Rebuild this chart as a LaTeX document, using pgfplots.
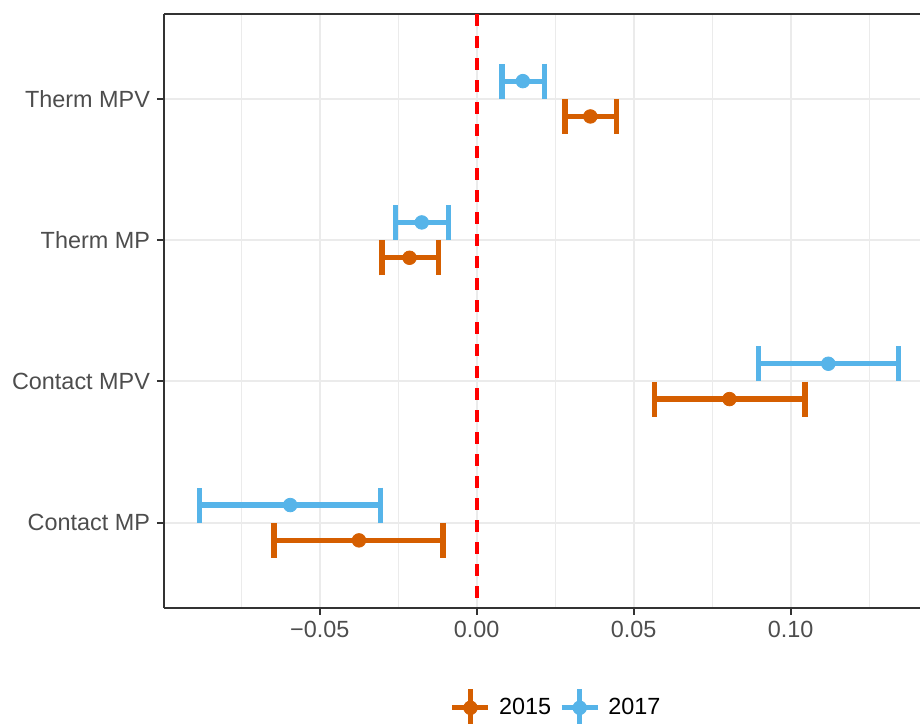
\documentclass[border=0pt]{standalone}
\usepackage{pgfplots}
\pgfplotsset{compat=1.18}
\usepackage{pgfplotstable}
\usepackage{fontspec}
\setmainfont{Liberation Sans}

\definecolor{c2015}{HTML}{D55E00}
\definecolor{c2017}{HTML}{56B4E9}
\definecolor{gridgray}{HTML}{EBEBEB}
\definecolor{framegray}{HTML}{333333}
\definecolor{labelgray}{HTML}{4D4D4D}

% estimate with confidence interval; y = category index -/+ dodge
\pgfplotstableread{
y      x        lo       hi
0.875  -0.0375  -0.0646  -0.0107
1.875   0.0805   0.0566   0.1045
2.875  -0.0214  -0.0302  -0.0122
3.875   0.0362   0.0282   0.0445
}\estA
\pgfplotstableread{
y      x        lo       hi
1.125  -0.0594  -0.0883  -0.0306
2.125   0.1120   0.0897   0.1343
3.125  -0.0175  -0.0259  -0.0090
4.125   0.0147   0.0081   0.0216
}\estB

\begin{document}
\begin{tikzpicture}
\begin{axis}[
  name=ax,
  scale only axis,
  width=378pt, height=296.75pt,
  xmin=-0.0996, xmax=0.1412,
  ymin=0.4, ymax=4.6,
  axis x line*=box, axis y line*=left,
  axis line style={-, framegray, line width=1pt},
  xtick={-0.05,0,0.05,0.1},
  xticklabels={−0.05,0.00,0.05,0.10},
  minor xtick={-0.075,-0.025,0.025,0.075,0.125},
  ytick={1,2,3,4},
  yticklabels={Contact MP,Contact MPV,Therm MP,Therm MPV},
  xtick pos=bottom, ytick pos=left,
  tick align=outside,
  major tick length=3.5pt, minor tick length=0pt,
  tick style={framegray, line width=1pt},
  xmajorgrids, xminorgrids, ymajorgrids,
  major grid style={gridgray, line width=1pt},
  minor grid style={gridgray, line width=0.6pt},
  tick label style={font=\fontsize{11.7}{14}\selectfont, text=labelgray},
  legend columns=2,
  legend style={at={(0.52,-0.169)}, anchor=center, draw=none, fill=none,
    font=\fontsize{11.7}{14}\selectfont, legend cell align=left,
    /tikz/every odd column/.append style={column sep=2pt},
    /tikz/every even column/.append style={column sep=2pt}},
]
\addplot[red, line width=1.9pt, dash pattern=on 6pt off 5pt, forget plot]
  coordinates {(0,4.6) (0,0.4)};

\addplot[c2015, only marks, mark=*, mark size=3.4pt, forget plot,
  error bars/.cd, x dir=both, x explicit,
  error bar style={line width=2.6pt, c2015},
  error mark options={rotate=90, line width=2.8pt, mark size=8.75pt, c2015}]
  table[x=x, y=y,
        x error plus expr=\thisrow{hi}-\thisrow{x},
        x error minus expr=\thisrow{x}-\thisrow{lo}] {\estA};

\addplot[c2017, only marks, mark=*, mark size=3.4pt, forget plot,
  error bars/.cd, x dir=both, x explicit,
  error bar style={line width=2.6pt, c2017},
  error mark options={rotate=90, line width=2.8pt, mark size=8.75pt, c2017}]
  table[x=x, y=y,
        x error plus expr=\thisrow{hi}-\thisrow{x},
        x error minus expr=\thisrow{x}-\thisrow{lo}] {\estB};

\addlegendimage{legend image code/.code={
  \draw[c2015, line width=2.6pt] (0pt,0pt) -- (18pt,0pt);
  \draw[c2015, line width=2.6pt] (9pt,-9.5pt) -- (9pt,9.5pt);
  \fill[c2015] (9pt,0pt) circle (3.4pt);}}
\addlegendentry{2015}
\addlegendimage{legend image code/.code={
  \draw[c2017, line width=2.6pt] (0pt,0pt) -- (18pt,0pt);
  \draw[c2017, line width=2.6pt] (9pt,-9.5pt) -- (9pt,9.5pt);
  \fill[c2017] (9pt,0pt) circle (3.4pt);}}
\addlegendentry{2017}
\end{axis}
\pgfresetboundingbox
\path ([xshift=-82pt,yshift=-57.75pt]ax.south west) rectangle ([yshift=7pt]ax.north east);
\end{tikzpicture}
\end{document}
